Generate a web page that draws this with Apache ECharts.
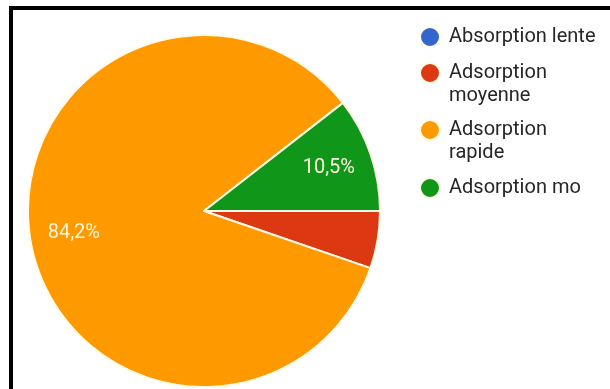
<!DOCTYPE html>
<html>
<head>
<meta charset="utf-8">
<script src="https://cdn.jsdelivr.net/npm/echarts@6/dist/echarts.min.js"></script>
<style>
  html, body { margin: 0; padding: 0; background: #ffffff; }
  #chart { width: 610px; height: 389px; }
</style>
</head>
<body>
<div id="chart"></div>
<script>
// ---- data ----
const categories = ['Absorption lente', 'Adsorption moyenne', 'Adsorption rapide', 'Adsorption mo'];
const legendLabels = ['Absorption lente', 'Adsorption\nmoyenne', 'Adsorption\nrapide', 'Adsorption mo'];
const responses = [0, 1, 16, 2];
const colors = ['#3366cc', '#dc3912', '#ff9900', '#109618'];

const legendIconCenters = [37, 73, 130, 188];
const LINE_H = 23;

const chart = echarts.init(document.getElementById('chart'), null, { renderer: 'canvas' });

const pieData = categories.map((c, i) => ({ name: c, value: responses[i], itemStyle: { color: colors[i] } }));

const legends = categories.map((c, i) => {
  const twoLine = legendLabels[i].indexOf('\n') >= 0;
  // two-line entries get an empty first line so that the icon sits beside the first text line
  const text = twoLine ? ' \n' + legendLabels[i] : legendLabels[i];
  const boxH = twoLine ? LINE_H * 3 : LINE_H;
  return {
    data: [{ name: c, icon: 'circle' }],
    orient: 'vertical',
    left: 419,
    top: legendIconCenters[i] - boxH / 2,
    padding: 0,
    itemWidth: 20,
    itemHeight: 20,
    selectedMode: false,
    formatter: () => text,
    textStyle: {
      fontFamily: 'Roboto',
      fontSize: 20,
      lineHeight: LINE_H,
      color: '#262626',
      padding: [0, 0, 0, 4]
    }
  };
});

const option = {
  backgroundColor: '#ffffff',
  animation: false,
  color: colors,
  legend: legends,
  graphic: [
    { type: 'rect', shape: { x: 9, y: 6, width: 601, height: 4 }, style: { fill: '#000000' } },
    { type: 'rect', shape: { x: 9, y: 6, width: 4, height: 383 }, style: { fill: '#000000' } }
  ],
  series: [
    {
      type: 'pie',
      center: [204, 211],
      radius: [0, 176],
      startAngle: 0,
      clockwise: true,
      avoidLabelOverlap: false,
      label: { show: false },
      labelLine: { show: false },
      itemStyle: { borderColor: '#fffbe8', borderWidth: 2 },
      data: pieData
    },
    {
      type: 'pie',
      center: [204, 211],
      radius: [82, 176],
      startAngle: 0,
      clockwise: true,
      silent: true,
      avoidLabelOverlap: false,
      legendHoverLink: false,
      itemStyle: { color: 'rgba(0,0,0,0)', borderWidth: 0 },
      label: {
        show: true,
        position: 'inside',
        fontFamily: 'Roboto',
        fontSize: 20,
        color: '#fdf6dc',
        formatter: p => (p.percent < 7 ? '' : p.percent.toFixed(1).replace('.', ',') + '%')
      },
      labelLine: { show: false },
      data: categories.map((c, i) => ({ name: c, value: responses[i] }))
    }
  ]
};

chart.setOption(option);
</script>
</body>
</html>
